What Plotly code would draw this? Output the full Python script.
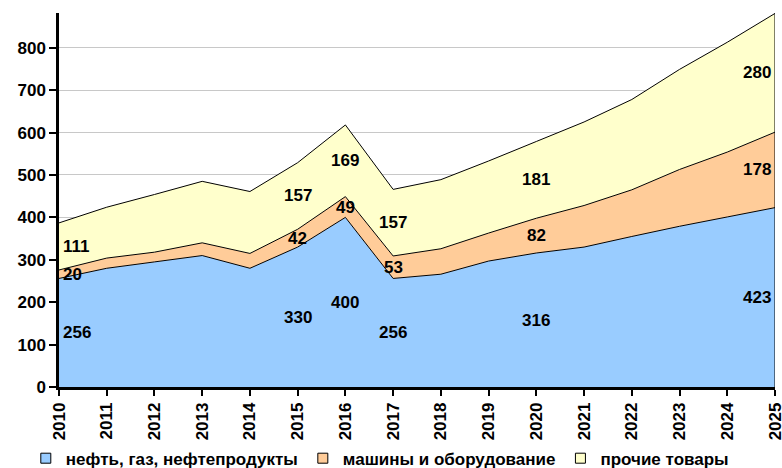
import plotly.graph_objects as go

years = list(range(2010, 2026))

oil = [256, 280, 295, 310, 280, 330, 400, 256, 266, 297, 316, 330, 355, 379, 401, 423]
machines = [20, 24, 23, 30, 35, 42, 49, 53, 60, 66, 82, 98, 110, 134, 153, 178]
other = [111, 120, 136, 145, 146, 157, 169, 157, 163, 170, 181, 197, 213, 236, 259, 280]

names = ["нефть, газ, нефтепродукты", "машины и оборудование", "прочие товары"]
colors = ["#99CCFF", "#FFCC99", "#FFFFCC"]

label_years = [2010, 2015, 2016, 2017, 2020, 2025]

FONT = "Liberation Sans, Arial, sans-serif"
FS = 17

fig = go.Figure()
series = [oil, machines, other]
for i in range(3):
    fig.add_trace(go.Scatter(
        x=years, y=series[i], name=names[i],
        mode="lines", stackgroup="one",
        fillcolor=colors[i],
        line=dict(color="black", width=1),
        showlegend=False, hoverinfo="skip",
    ))

# legend entries as small squares, like the Excel legend keys
for i in range(3):
    fig.add_trace(go.Scatter(
        x=[None], y=[None], name=names[i], mode="markers",
        marker=dict(symbol="square", size=10, color=colors[i],
                    line=dict(color="black", width=1)),
    ))

# data labels in the middle of each band
for yr in label_years:
    idx = years.index(yr)
    base = 0
    for s in series:
        v = s[idx]
        if yr == years[0]:
            xa, xs = "left", 2
        elif yr == years[-1]:
            xa, xs = "right", -2
        else:
            xa, xs = "center", 0
        fig.add_annotation(
            x=yr, y=base + v / 2, text=str(v), showarrow=False,
            xanchor=xa, xshift=xs,
            font=dict(family=FONT, size=FS, color="black", weight="bold"),
        )
        base += v

# right edge of the area outline
total_last = oil[-1] + machines[-1] + other[-1]
fig.add_shape(type="line", x0=years[-1], x1=years[-1], y0=0, y1=total_last,
              xref="x", yref="y", line=dict(color="black", width=1))

fig.update_layout(
    width=782, height=468,
    margin=dict(l=59, r=7, t=13, b=81),
    plot_bgcolor="white", paper_bgcolor="white",
    font=dict(family=FONT, size=FS, color="black", weight="bold"),
    legend=dict(
        orientation="h", xref="container", x=0.033, xanchor="left",
        yref="container", y=0.02, yanchor="middle",
        font=dict(family=FONT, size=17, color="black", weight="bold"),
        bgcolor="rgba(0,0,0,0)",
        traceorder="normal", itemwidth=30, tracegroupgap=0,
    ),
)

fig.update_xaxes(
    range=[2010, 2025], tickmode="array", tickvals=years, tickangle=-90,
    showline=True, linecolor="black", linewidth=2.5,
    ticks="outside", ticklen=6, tickwidth=2, tickcolor="black",
    showgrid=False, zeroline=False, automargin=False,
    ticklabeloverflow="allow",
)
fig.update_yaxes(
    range=[0, 882], tickmode="linear", dtick=100,
    showline=True, linecolor="black", linewidth=2.5,
    ticks="outside", ticklen=7, tickwidth=2, tickcolor="black",
    showgrid=True, gridcolor="#C8C8C8", gridwidth=1, zeroline=False,
    automargin=False, ticklabeloverflow="allow",
)

fig.write_html("out.html", config={"displayModeBar": False},
               post_script="document.body.style.margin='0px';")
